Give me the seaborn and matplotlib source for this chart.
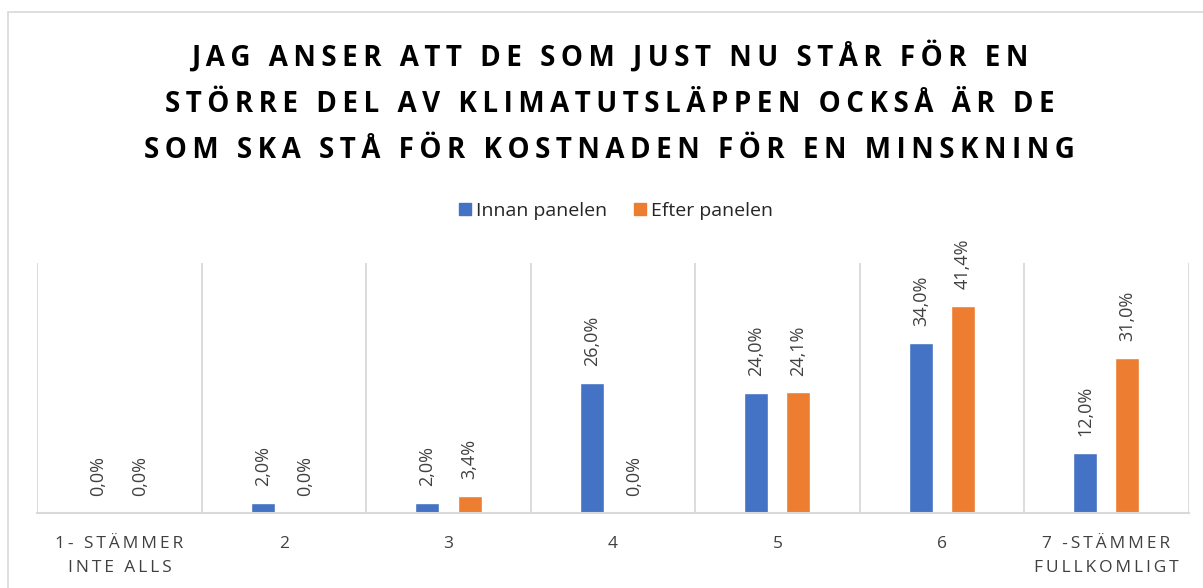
import matplotlib
matplotlib.use("Agg")
import matplotlib.pyplot as plt
from matplotlib.patches import Rectangle
import seaborn as sns
import pandas as pd

# chart data
categories = ["1- STÄMMER\nINTE ALLS", "2", "3", "4", "5", "6", "7 -STÄMMER\nFULLKOMLIGT"]
innan = [0.0, 2.0, 2.0, 26.0, 24.0, 34.0, 12.0]
efter = [0.0, 0.0, 3.4, 0.0, 24.1, 41.4, 31.0]
series = ["Innan panelen", "Efter panelen"]
colors = {"Innan panelen": "#4472C4", "Efter panelen": "#ED7D31"}
title = ("JAG ANSER ATT DE SOM JUST NU STÅR FÖR EN\n"
         "STÖRRE DEL AV KLIMATUTSLÄPPEN OCKSÅ ÄR DE\n"
         "SOM SKA STÅ FÖR KOSTNADEN FÖR EN MINSKNING")


def spaced(text, sep="\u2009"):
    # imitate letter spacing with thin spaces between the characters
    return "\n".join(sep.join(line) for line in text.split("\n"))


df = pd.DataFrame({
    "kategori": categories * 2,
    "andel": innan + efter,
    "serie": [series[0]] * len(categories) + [series[1]] * len(categories),
})

sns.set_style("white")
plt.rcParams["font.family"] = ["Open Sans", "DejaVu Sans"]

fig = plt.figure(figsize=(12.03, 5.88), dpi=100)
ax = fig.add_axes([0.031, 0.128, 0.957, 0.425])

sns.barplot(data=df, x="kategori", y="andel", hue="serie", palette=colors,
            width=0.512, gap=0.43, ax=ax, legend=False, saturation=1)

for cont in ax.containers:
    labels = [f"{b.get_height():.1f}%".replace(".", ",") for b in cont]
    ax.bar_label(cont, labels=labels, rotation=90, padding=12, fontsize=13,
                 color="#404040")

ax.set_ylim(0, 50)
ax.set_xlim(-0.5, len(categories) - 0.5)
ax.set_yticks([])
ax.set_xticks(range(len(categories)))
ax.set_xticklabels([spaced(c) for c in categories], fontsize=12.5,
                   color="#404040", linespacing=1.6)
ax.tick_params(axis="x", length=0, pad=17)
ax.set_xticks([i - 0.5 for i in range(len(categories) + 1)], minor=True)
ax.tick_params(axis="x", which="minor", length=0)
ax.grid(axis="x", which="minor", color="#D9D9D9", linewidth=1.3)
ax.grid(axis="x", which="major", visible=False)
ax.set_xlabel("")
ax.set_ylabel("")
for s in ["top", "left", "right"]:
    ax.spines[s].set_visible(False)
ax.spines["bottom"].set_color("#D9D9D9")
ax.spines["bottom"].set_linewidth(1.5)

fig.text(0.507, 0.825, spaced(title), ha="center", va="center", fontsize=20,
         fontweight="bold", linespacing=1.78, color="black")

handles = [Rectangle((0, 0), 1, 1, color=colors[s]) for s in series]
fig.legend(handles, series, loc="center", bbox_to_anchor=(0.512, 0.641), ncol=2,
           frameon=False, fontsize=14, handlelength=0.6, handleheight=0.6,
           handletextpad=0.25, columnspacing=1.4)

fig.patches.append(Rectangle((8 / 1203, -0.1), 1.2, 1 - 12 / 588 + 0.1,
                             transform=fig.transFigure, fill=False,
                             edgecolor="#D9D9D9", linewidth=1.2))

fig.savefig("out.png", dpi=100)
